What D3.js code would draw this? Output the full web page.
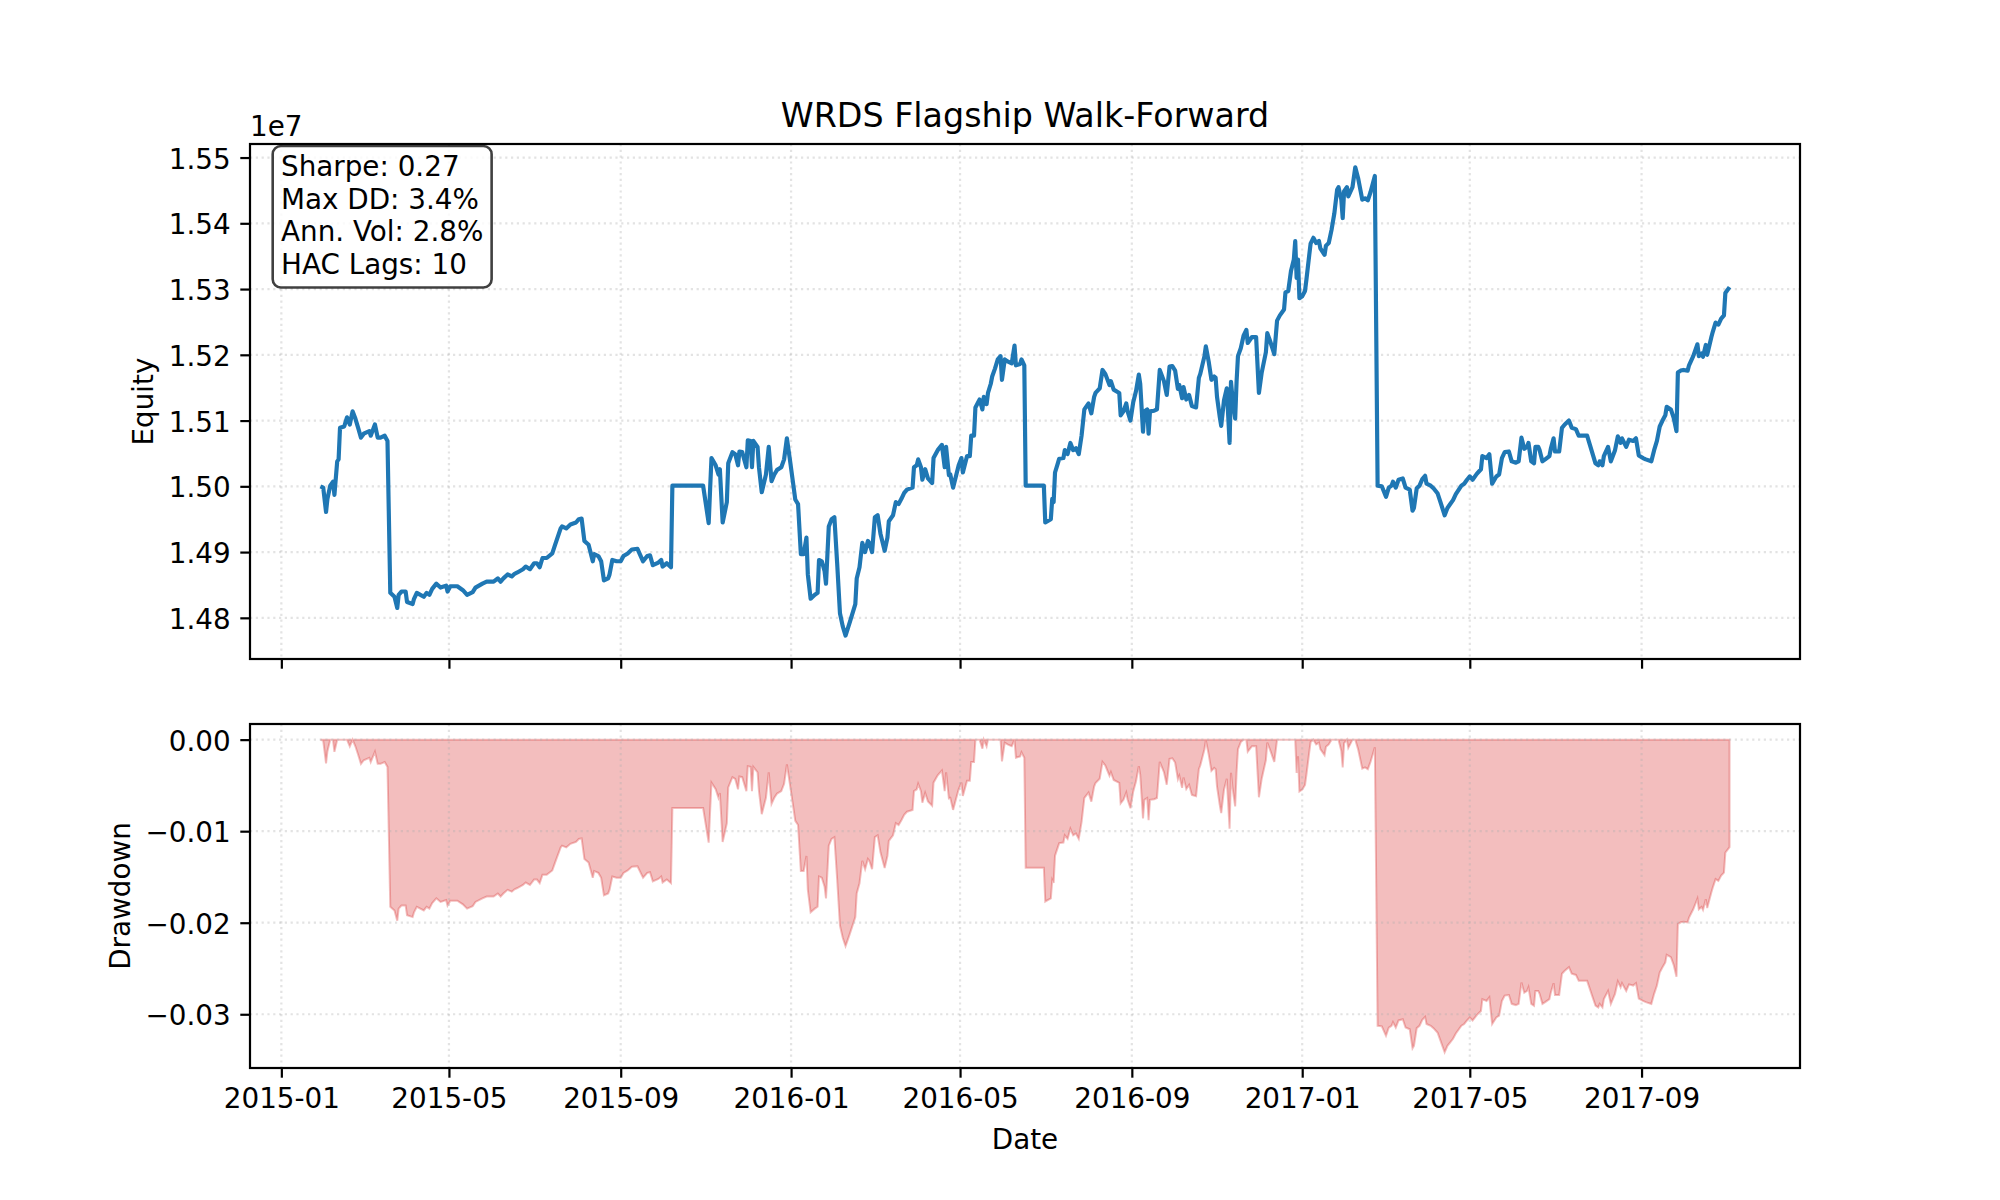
<!DOCTYPE html>
<html>
<head>
<meta charset="utf-8">
<script src="https://cdn.jsdelivr.net/npm/d3@7"></script>
<style>
  body { margin: 0; background: #fff; }
  svg { font-family: "DejaVu Sans", sans-serif; }
</style>
</head>
<body>
<div id="chart"></div>
<script>
// ---- data ----
var dates = [
"2015-01-29","2015-01-31","2015-02-02","2015-02-03","2015-02-05","2015-02-07","2015-02-08","2015-02-10","2015-02-11","2015-02-12",
"2015-02-15","2015-02-17","2015-02-19","2015-02-21","2015-02-23","2015-02-25","2015-02-27","2015-03-01","2015-03-05","2015-03-06",
"2015-03-09","2015-03-11","2015-03-13","2015-03-16","2015-03-18","2015-03-20","2015-03-23","2015-03-25","2015-03-26","2015-03-28",
"2015-03-31","2015-04-01","2015-04-05","2015-04-06","2015-04-08","2015-04-13","2015-04-15","2015-04-17","2015-04-19","2015-04-22",
"2015-04-25","2015-04-29","2015-04-30","2015-05-02","2015-05-07","2015-05-11","2015-05-14","2015-05-18","2015-05-20","2015-05-25",
"2015-05-28","2015-06-02","2015-06-05","2015-06-07","2015-06-09","2015-06-12","2015-06-15","2015-06-17","2015-06-19","2015-06-23",
"2015-06-25","2015-06-28","2015-07-01","2015-07-03","2015-07-05","2015-07-07","2015-07-10","2015-07-14","2015-07-16","2015-07-20",
"2015-07-21","2015-07-24","2015-07-27","2015-07-31","2015-08-02","2015-08-04","2015-08-06","2015-08-09","2015-08-12","2015-08-13",
"2015-08-16","2015-08-18","2015-08-20","2015-08-23","2015-08-24","2015-08-26","2015-08-29","2015-09-01","2015-09-03","2015-09-06",
"2015-09-09","2015-09-13","2015-09-17","2015-09-20","2015-09-22","2015-09-24","2015-09-28","2015-09-30","2015-10-01","2015-10-04",
"2015-10-07","2015-10-08","2015-10-30","2015-11-03","2015-11-04","2015-11-05","2015-11-08","2015-11-10","2015-11-11","2015-11-13",
"2015-11-16","2015-11-17","2015-11-20","2015-11-22","2015-11-24","2015-11-25","2015-11-27","2015-11-30","2015-12-01","2015-12-03",
"2015-12-04","2015-12-05","2015-12-08","2015-12-09","2015-12-11","2015-12-14","2015-12-16","2015-12-18","2015-12-20","2015-12-22",
"2015-12-25","2015-12-27","2015-12-29","2015-12-31","2016-01-03","2016-01-04","2016-01-06","2016-01-08","2016-01-10","2016-01-12",
"2016-01-13","2016-01-15","2016-01-18","2016-01-20","2016-01-21","2016-01-23","2016-01-25","2016-01-26","2016-01-28","2016-01-30",
"2016-02-01","2016-02-03","2016-02-05","2016-02-07","2016-02-09","2016-02-12","2016-02-16","2016-02-17","2016-02-19","2016-02-21",
"2016-02-23","2016-02-25","2016-02-26","2016-02-28","2016-03-01","2016-03-03","2016-03-05","2016-03-08","2016-03-10","2016-03-11",
"2016-03-14","2016-03-16","2016-03-18","2016-03-20","2016-03-22","2016-03-24","2016-03-28","2016-03-29","2016-03-31","2016-04-01",
"2016-04-03","2016-04-04","2016-04-06","2016-04-08","2016-04-11","2016-04-12","2016-04-15","2016-04-18","2016-04-20","2016-04-21",
"2016-04-23","2016-04-24","2016-04-26","2016-04-28","2016-04-30","2016-05-02","2016-05-03","2016-05-06","2016-05-08","2016-05-09",
"2016-05-11","2016-05-12","2016-05-15","2016-05-17","2016-05-18","2016-05-20","2016-05-21","2016-05-23","2016-05-24","2016-05-26",
"2016-05-28","2016-05-30","2016-05-31","2016-06-02","2016-06-04","2016-06-07","2016-06-09","2016-06-10","2016-06-13","2016-06-14",
"2016-06-16","2016-06-17","2016-06-30","2016-07-01","2016-07-05","2016-07-06","2016-07-07","2016-07-08","2016-07-10","2016-07-11",
"2016-07-14","2016-07-15","2016-07-17","2016-07-19","2016-07-21","2016-07-23","2016-07-25","2016-07-27","2016-07-29","2016-08-01",
"2016-08-03","2016-08-05","2016-08-06","2016-08-09","2016-08-11","2016-08-13","2016-08-16","2016-08-17","2016-08-19","2016-08-23",
"2016-08-24","2016-08-26","2016-08-28","2016-08-29","2016-08-31","2016-09-02","2016-09-04","2016-09-06","2016-09-07","2016-09-09",
"2016-09-10","2016-09-12","2016-09-13","2016-09-14","2016-09-17","2016-09-19","2016-09-21","2016-09-24","2016-09-26","2016-09-28",
"2016-09-30","2016-10-02","2016-10-04","2016-10-05","2016-10-07","2016-10-08","2016-10-10","2016-10-12","2016-10-14","2016-10-17",
"2016-10-19","2016-10-20","2016-10-23","2016-10-24","2016-10-26","2016-10-28","2016-10-30","2016-10-31","2016-11-01","2016-11-03",
"2016-11-04","2016-11-06","2016-11-08","2016-11-10","2016-11-11","2016-11-12","2016-11-14","2016-11-15","2016-11-16","2016-11-18",
"2016-11-20","2016-11-22","2016-11-23","2016-11-26","2016-11-29","2016-12-01","2016-12-03","2016-12-06","2016-12-07","2016-12-09",
"2016-12-12","2016-12-14","2016-12-16","2016-12-19","2016-12-20","2016-12-22","2016-12-24","2016-12-26","2016-12-27","2016-12-28",
"2016-12-29","2016-12-30","2017-01-01","2017-01-03","2017-01-04","2017-01-06","2017-01-07","2017-01-09","2017-01-11","2017-01-13",
"2017-01-14","2017-01-17","2017-01-18","2017-01-20","2017-01-22","2017-01-24","2017-01-26","2017-01-27","2017-01-29","2017-01-30",
"2017-01-31","2017-02-02","2017-02-03","2017-02-06","2017-02-08","2017-02-10","2017-02-13","2017-02-15","2017-02-17","2017-02-19",
"2017-02-22","2017-02-24","2017-02-27","2017-03-02","2017-03-04","2017-03-06","2017-03-07","2017-03-09","2017-03-11","2017-03-14",
"2017-03-16","2017-03-19","2017-03-21","2017-03-22","2017-03-24","2017-03-26","2017-03-28","2017-03-30","2017-03-31","2017-04-03",
"2017-04-05","2017-04-08","2017-04-10","2017-04-13","2017-04-15","2017-04-17","2017-04-19","2017-04-21","2017-04-25","2017-04-27",
"2017-04-29","2017-05-01","2017-05-03","2017-05-06","2017-05-09","2017-05-10","2017-05-13","2017-05-15","2017-05-17","2017-05-20",
"2017-05-22","2017-05-24","2017-05-26","2017-05-29","2017-05-31","2017-06-03","2017-06-05","2017-06-07","2017-06-09","2017-06-11",
"2017-06-12","2017-06-14","2017-06-16","2017-06-17","2017-06-19","2017-06-20","2017-06-22","2017-06-24","2017-06-27","2017-06-28",
"2017-06-30","2017-07-01","2017-07-04","2017-07-06","2017-07-08","2017-07-11","2017-07-13","2017-07-16","2017-07-18","2017-07-21",
"2017-07-24","2017-07-26","2017-07-28","2017-07-30","2017-08-01","2017-08-02","2017-08-04","2017-08-05","2017-08-08","2017-08-10",
"2017-08-13","2017-08-15","2017-08-17","2017-08-18","2017-08-21","2017-08-23","2017-08-26","2017-08-28","2017-08-30","2017-09-02",
"2017-09-04","2017-09-08","2017-09-10","2017-09-12","2017-09-14","2017-09-16","2017-09-18","2017-09-19","2017-09-22","2017-09-24",
"2017-09-26","2017-09-27","2017-09-29","2017-10-01","2017-10-04","2017-10-05","2017-10-08","2017-10-11","2017-10-12","2017-10-14",
"2017-10-15","2017-10-17","2017-10-18","2017-10-21","2017-10-22","2017-10-24","2017-10-26","2017-10-28","2017-10-30","2017-10-31",
"2017-11-03"
];

var equity = [
15000000,14998000,14961000,14981000,15001000,15007000,14987000,15038000,15041000,15089000,
15091000,15105000,15094000,15114000,15103000,15089000,15074000,15080000,15084000,15077000,
15094000,15074000,15074000,15077000,15069000,14838000,14832000,14815000,14835000,14840000,
14840000,14824000,14821000,14829000,14838000,14832000,14838000,14835000,14844000,14852000,
14846000,14849000,14840000,14848000,14848000,14842000,14835000,14839000,14846000,14852000,
14855000,14855000,14860000,14855000,14860000,14866000,14863000,14867000,14869000,14874000,
14878000,14874000,14883000,14883000,14877000,14891000,14891000,14898000,14911000,14936000,
14939000,14936000,14942000,14945000,14950000,14951000,14917000,14911000,14886000,14897000,
14894000,14886000,14857000,14860000,14866000,14888000,14886000,14886000,14894000,14898000,
14904000,14905000,14886000,14894000,14895000,14880000,14884000,14888000,14878000,14883000,
14877000,15001000,15001000,14944000,14995000,15043000,15032000,15018000,15026000,14945000,
14976000,15035000,15052000,15049000,15032000,15053000,15052000,15029000,15070000,15069000,
15029000,15069000,15060000,15029000,14991000,15018000,15060000,15008000,15018000,15025000,
15029000,15041000,15073000,15043000,14996000,14980000,14973000,14897000,14897000,14922000,
14866000,14829000,14835000,14838000,14888000,14886000,14871000,14852000,14939000,14950000,
14953000,14883000,14807000,14787000,14773000,14793000,14821000,14860000,14877000,14914000,
14900000,14917000,14914000,14900000,14953000,14956000,14928000,14902000,14922000,14947000,
14956000,14976000,14973000,14981000,14990000,14995000,14998000,15029000,15032000,15041000,
15029000,15010000,15026000,15012000,15005000,15043000,15055000,15063000,15029000,15060000,
15017000,15018000,14998000,15015000,15032000,15043000,15021000,15046000,15046000,15077000,
15077000,15120000,15132000,15117000,15136000,15125000,15142000,15156000,15167000,15179000,
15193000,15198000,15162000,15193000,15190000,15187000,15214000,15184000,15186000,15193000,
15184000,15001000,15001000,14945000,14950000,14981000,14976000,15021000,15035000,15042000,
15043000,15055000,15049000,15066000,15055000,15058000,15049000,15077000,15117000,15126000,
15111000,15136000,15142000,15149000,15177000,15171000,15154000,15160000,15147000,15142000,
15108000,15114000,15126000,15114000,15100000,15128000,15145000,15170000,15156000,15083000,
15114000,15117000,15080000,15114000,15115000,15117000,15177000,15160000,15139000,15182000,
15183000,15176000,15148000,15154000,15134000,15151000,15132000,15139000,15122000,15120000,
15165000,15171000,15198000,15213000,15190000,15162000,15167000,15165000,15136000,15105000,
15092000,15131000,15149000,15066000,15159000,15136000,15103000,15159000,15198000,15210000,
15229000,15238000,15218000,15227000,15227000,15142000,15173000,15204000,15233000,15221000,
15201000,15252000,15260000,15269000,15295000,15297000,15328000,15345000,15373000,15317000,
15345000,15286000,15289000,15297000,15314000,15351000,15369000,15378000,15370000,15373000,
15362000,15352000,15366000,15370000,15390000,15415000,15451000,15455000,15436000,15408000,
15449000,15455000,15441000,15455000,15485000,15469000,15436000,15438000,15435000,15448000,
15472000,15001000,15000000,14984000,14998000,15001000,15007000,14998000,15010000,15012000,
14998000,14995000,14963000,14967000,14997000,15001000,15011000,15016000,15004000,15001000,
14997000,14989000,14976000,14956000,14967000,14973000,14979000,14988000,15001000,15004000,
15010000,15015000,15010000,15019000,15026000,15046000,15043000,15049000,15004000,15015000,
15018000,15043000,15052000,15053000,15038000,15036000,15038000,15074000,15057000,15060000,
15066000,15038000,15035000,15060000,15060000,15055000,15038000,15041000,15046000,15057000,
15073000,15053000,15053000,15089000,15094000,15100000,15089000,15087000,15077000,15077000,
15077000,15063000,15049000,15035000,15032000,15038000,15032000,15046000,15060000,15038000,
15055000,15076000,15066000,15073000,15060000,15071000,15069000,15073000,15047000,15043000,
15041000,15038000,15055000,15069000,15091000,15100000,15108000,15121000,15117000,15104000,
15084000,15173000,15176000,15177000,15176000,15184000,15198000,15216000,15198000,15202000,
15197000,15215000,15200000,15227000,15235000,15249000,15246000,15255000,15260000,15294000,
15303000
];

var xTickLabels = ["2015-01","2015-05","2015-09","2016-01","2016-05","2016-09","2017-01","2017-05","2017-09"];
var equityTicks = [1.48, 1.49, 1.50, 1.51, 1.52, 1.53, 1.54, 1.55];   // x 1e7
var drawdownTicks = [0.00, -0.01, -0.02, -0.03];
var statsLines = ["Sharpe: 0.27", "Max DD: 3.4%", "Ann. Vol: 2.8%", "HAC Lags: 10"];
var titleText = "WRDS Flagship Walk-Forward";

// ---- layout ----
var W = 2000, H = 1200;
var left = 250, right = 1800;
var topPanel = {top: 144, bottom: 659};
var botPanel = {top: 724, bottom: 1068};
var fontPx = 27.8, titlePx = 33.3;
var tickLen = 9.7, tickPad = 9.7, spineW = 2.2;

var parseDay = d3.utcParse("%Y-%m-%d");
var parseMonth = d3.utcParse("%Y-%m");

var rows = dates.map(function(d, i){ return {date: parseDay(d), equity: equity[i]}; });
// drawdown relative to running peak of the equity curve
var peak = -Infinity;
rows.forEach(function(r){
    peak = Math.max(peak, r.equity);
    r.dd = r.equity / peak - 1;
});

var t0 = +rows[0].date, t1 = +rows[rows.length - 1].date, span = t1 - t0;
var x = d3.scaleUtc()
    .domain([new Date(t0 - span * 0.05), new Date(t1 + span * 0.05)])
    .range([left, right]);

var eqExt = d3.extent(rows, function(d){ return d.equity; });
var eqPad = (eqExt[1] - eqExt[0]) * 0.05;
var yEq = d3.scaleLinear().domain([eqExt[0] - eqPad, eqExt[1] + eqPad]).range([topPanel.bottom, topPanel.top]);

var ddMin = d3.min(rows, function(d){ return d.dd; });
var ddPad = (0 - ddMin) * 0.05;
var yDd = d3.scaleLinear().domain([ddMin - ddPad, 0 + ddPad]).range([botPanel.bottom, botPanel.top]);

var tickDates = xTickLabels.map(parseMonth);

var svg = d3.select("#chart").append("svg")
    .attr("width", W).attr("height", H)
    .style("background", "#fff");

function drawGrid(g, yScale, yTicks, panel){
    var grid = g.append("g").attr("class", "grid")
        .attr("stroke", "#b0b0b0").attr("stroke-opacity", 0.35)
        .attr("stroke-width", spineW).attr("stroke-dasharray", "2.2,3.6");
    grid.selectAll(".gx").data(tickDates).enter().append("line")
        .attr("x1", function(d){ return x(d); }).attr("x2", function(d){ return x(d); })
        .attr("y1", panel.top).attr("y2", panel.bottom);
    grid.selectAll(".gy").data(yTicks).enter().append("line")
        .attr("x1", left).attr("x2", right)
        .attr("y1", function(d){ return yScale(d); }).attr("y2", function(d){ return yScale(d); });
}

function styleAxis(sel){
    sel.select(".domain").remove();
    sel.selectAll(".tick line").attr("stroke", "#000").attr("stroke-width", spineW);
    sel.selectAll(".tick text").attr("fill", "#000")
        .style("font-size", fontPx + "px").style("font-family", "'DejaVu Sans', sans-serif");
}

// ---------- top panel: equity ----------
var gTop = svg.append("g");
drawGrid(gTop, yEq, equityTicks.map(function(v){ return v * 1e7; }), topPanel);

var eqLine = d3.line()
    .x(function(d){ return x(d.date); })
    .y(function(d){ return yEq(d.equity); });

gTop.append("path").datum(rows)
    .attr("d", eqLine)
    .attr("fill", "none")
    .attr("stroke", "#1f77b4")
    .attr("stroke-width", 4.17)
    .attr("stroke-linejoin", "round");

gTop.append("rect")
    .attr("x", left).attr("y", topPanel.top)
    .attr("width", right - left).attr("height", topPanel.bottom - topPanel.top)
    .attr("fill", "none").attr("stroke", "#000").attr("stroke-width", spineW);

gTop.append("g")
    .attr("transform", "translate(0," + topPanel.bottom + ")")
    .call(d3.axisBottom(x).tickValues(tickDates).tickSize(tickLen).tickFormat(""))
    .call(styleAxis);

gTop.append("g")
    .attr("transform", "translate(" + left + ",0)")
    .call(d3.axisLeft(yEq)
        .tickValues(equityTicks.map(function(v){ return v * 1e7; }))
        .tickSize(tickLen).tickPadding(tickPad)
        .tickFormat(function(v){ return (v / 1e7).toFixed(2); }))
    .call(styleAxis)
    .selectAll(".tick text").attr("dy", "0.38em");

// offset text
gTop.append("text")
    .attr("x", left).attr("y", 136)
    .style("font-size", fontPx + "px")
    .text("1e7");

// title
svg.append("text")
    .attr("x", (left + right) / 2).attr("y", 127)
    .attr("text-anchor", "middle")
    .style("font-size", titlePx + "px")
    .text(titleText);

// y label
gTop.append("text")
    .attr("transform", "translate(153," + ((topPanel.top + topPanel.bottom) / 2) + ") rotate(-90)")
    .attr("text-anchor", "middle")
    .style("font-size", fontPx + "px")
    .text("Equity");

// stats box
var boxG = gTop.append("g");
var boxText = boxG.append("text").style("font-size", fontPx + "px");
statsLines.forEach(function(s, i){
    boxText.append("tspan").attr("x", 281).attr("y", 176 + i * 32.5).text(s);
});
var bb = boxText.node().getBBox();
boxG.insert("rect", "text")
    .attr("x", bb.x - 8.3).attr("y", bb.y - 4)
    .attr("width", bb.width + 16.6).attr("height", bb.height + 11)
    .attr("rx", 8.3).attr("ry", 8.3)
    .attr("fill", "#fff").attr("fill-opacity", 0.8)
    .attr("stroke", "#000").attr("stroke-opacity", 0.75).attr("stroke-width", 2.6);

// ---------- bottom panel: drawdown ----------
var gBot = svg.append("g");

var ddArea = d3.area()
    .x(function(d){ return x(d.date); })
    .y0(yDd(0))
    .y1(function(d){ return yDd(d.dd); });

gBot.append("path").datum(rows)
    .attr("d", ddArea)
    .attr("fill", "#d62728").attr("fill-opacity", 0.3)
    .attr("stroke", "#d62728").attr("stroke-opacity", 0.3)
    .attr("stroke-width", 2);

drawGrid(gBot, yDd, drawdownTicks, botPanel);

gBot.append("rect")
    .attr("x", left).attr("y", botPanel.top)
    .attr("width", right - left).attr("height", botPanel.bottom - botPanel.top)
    .attr("fill", "none").attr("stroke", "#000").attr("stroke-width", spineW);

gBot.append("g")
    .attr("transform", "translate(0," + botPanel.bottom + ")")
    .call(d3.axisBottom(x).tickValues(tickDates).tickSize(tickLen).tickPadding(10.1)
        .tickFormat(d3.utcFormat("%Y-%m")))
    .call(styleAxis);

gBot.append("g")
    .attr("transform", "translate(" + left + ",0)")
    .call(d3.axisLeft(yDd).tickValues(drawdownTicks)
        .tickSize(tickLen).tickPadding(tickPad)
        .tickFormat(function(v){ return (v < 0 ? "\u2212" : "") + Math.abs(v).toFixed(2); }))
    .call(styleAxis)
    .selectAll(".tick text").attr("dy", "0.38em");

gBot.append("text")
    .attr("transform", "translate(130," + ((botPanel.top + botPanel.bottom) / 2) + ") rotate(-90)")
    .attr("text-anchor", "middle")
    .style("font-size", fontPx + "px")
    .text("Drawdown");

svg.append("text")
    .attr("x", (left + right) / 2).attr("y", 1148.5)
    .attr("text-anchor", "middle")
    .style("font-size", fontPx + "px")
    .text("Date");
</script>
</body>
</html>
